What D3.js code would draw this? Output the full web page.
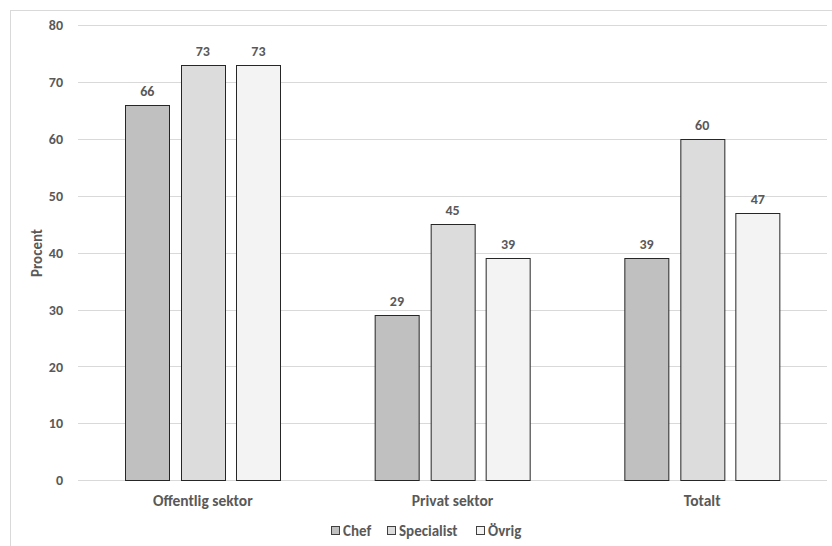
<!DOCTYPE html>
<html><head><meta charset="utf-8">
<script src="https://cdn.jsdelivr.net/npm/d3@7"></script>
<style>
html,body{margin:0;padding:0;background:#fff;}
text{font-family:Carlito,Calibri,Lato,sans-serif;font-weight:bold;fill:#595959;}
</style></head><body>
<svg id="chart" width="832" height="546"></svg>
<script>
const categories = ["Offentlig sektor", "Privat sektor", "Totalt"];
const seriesNames = ["Chef", "Specialist", "Övrig"];
const chefValues = [66, 29, 39];
const specialistValues = [73, 45, 60];
const ovrigValues = [73, 39, 47];
const yTicks = [0, 10, 20, 30, 40, 50, 60, 70, 80];
const colors = ["#c0c0c0", "#dcdcdc", "#f3f3f3"];
const yTitle = "Procent";

const seriesValues = [chefValues, specialistValues, ovrigValues];
const svg = d3.select("#chart");

// outer frame (extends beyond the picture at right and bottom)
svg.append("rect").attr("x", 10.5).attr("y", 10.5).attr("width", 840).attr("height", 560)
  .attr("fill", "none").attr("stroke", "#d9d9d9").attr("stroke-width", 1);

const x0 = d3.scaleBand().domain(categories).range([78, 827]).paddingInner(0).paddingOuter(0);
const x1 = d3.scaleBand().domain(seriesNames).range([47, x0.bandwidth() - 47]).paddingInner(0.2).paddingOuter(0);
const y = d3.scaleLinear().domain([0, 80]).range([480.3, 25]);

// gridlines
svg.append("g").selectAll("line").data(yTicks).join("line")
  .attr("x1", 78).attr("x2", 827)
  .attr("y1", d => Math.round(y(d)) + 0.5).attr("y2", d => Math.round(y(d)) + 0.5)
  .attr("stroke", "#d9d9d9").attr("stroke-width", 1);

// y tick labels
svg.append("g").selectAll("text").data(yTicks).join("text")
  .attr("x", 63).attr("y", d => y(d)).attr("dy", "0.36em")
  .attr("text-anchor", "end").attr("font-size", 14).text(d => d);

// y title
svg.append("text").attr("transform", `translate(42,253) rotate(-90)`)
  .attr("text-anchor", "middle").attr("font-size", 15).text(yTitle);

// bars
const groups = svg.append("g").selectAll("g").data(categories).join("g")
  .attr("transform", d => `translate(${x0(d)},0)`);

groups.each(function (cat, ci) {
  const g = d3.select(this);
  seriesNames.forEach((s, si) => {
    const v = seriesValues[si][ci];
    g.append("rect")
      .attr("x", Math.round(x1(s)) + 0.5).attr("y", Math.round(y(v)) + 0.5)
      .attr("width", Math.round(x1.bandwidth()))
      .attr("height", Math.round(y(0)) - Math.round(y(v)))
      .attr("fill", colors[si]).attr("stroke", "#262626").attr("stroke-width", 1);
    g.append("text")
      .attr("x", x1(s) + x1.bandwidth() / 2).attr("y", y(v) - 9)
      .attr("text-anchor", "middle").attr("font-size", 14).attr("fill", "#404040").text(v);
  });
});

// category labels
svg.append("g").selectAll("text").data(categories).join("text")
  .attr("x", d => x0(d) + x0.bandwidth() / 2).attr("y", 506)
  .attr("text-anchor", "middle").attr("font-size", 15.5).text(d => d);

// legend
const legendX = [331, 387, 476];
const legend = svg.append("g").selectAll("g").data(seriesNames).join("g")
  .attr("transform", (d, i) => `translate(${legendX[i]},526)`);
legend.append("rect").attr("x", 0.5).attr("y", 0.5).attr("width", 8).attr("height", 8)
  .attr("fill", (d, i) => colors[i]).attr("stroke", "#404040").attr("stroke-width", 1);
legend.append("text").attr("x", 12).attr("y", 4.5).attr("dy", "0.36em")
  .attr("font-size", 15).text(d => d);
</script>
</body></html>
